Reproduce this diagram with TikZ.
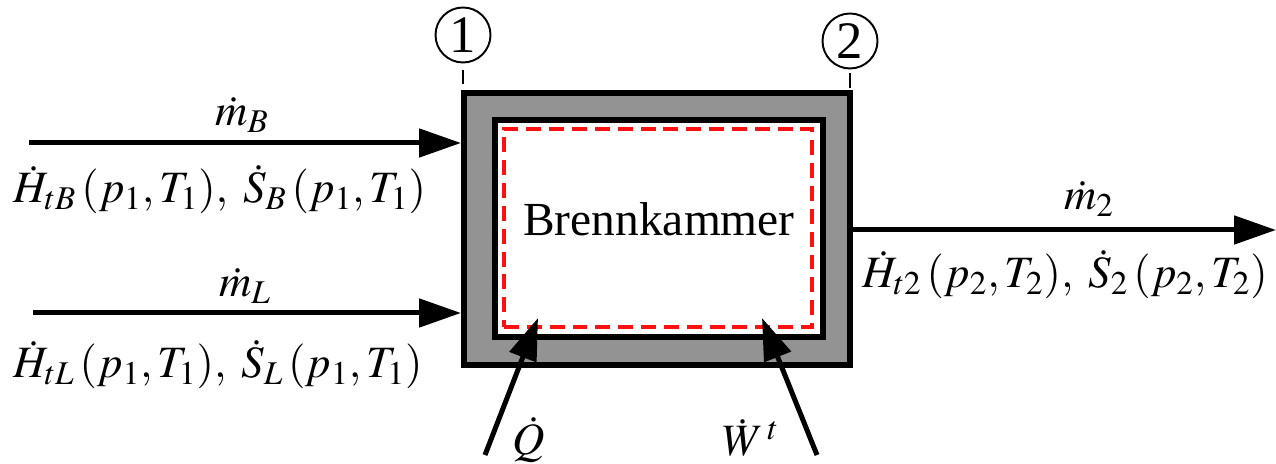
\documentclass[tikz,border=0pt]{standalone}
\usepackage{mathptmx}
\usepackage{fontspec}
\setmainfont{Liberation Serif}
\newfontfamily\timesfont{Liberation Serif}
\usepackage{tikz}
\usetikzlibrary{arrows.meta,positioning,calc}
\definecolor{wallgray}{HTML}{939393}
\definecolor{balred}{HTML}{FF1010}
\tikzset{
  >={Triangle[length=8.4mm,width=5.6mm]},
  wall/.style={draw=black,fill=wallgray,line width=3.4pt,minimum width=7.72cm,minimum height=5.44cm,inner sep=0pt},
  chamber/.style={draw=black,fill=white,line width=3.4pt,minimum width=6.56cm,minimum height=4.34cm,inner sep=0pt},
  balance/.style={draw=balred,line width=2.3pt,dash pattern=on 8.5pt off 4.5pt,minimum width=6.16cm,minimum height=3.96cm,inner sep=0pt},
  flow/.style={->,line width=2.85pt,color=black},
  station/.style={circle,draw=black,line width=1.1pt,minimum size=1.1cm,inner sep=0pt,font=\timesfont\fontsize{30}{32}\selectfont},
  tick/.style={line width=.6pt},
  lbl/.style={inner sep=0pt,font=\fontsize{25.5}{30}\selectfont},
}

\begin{document}
\begin{tikzpicture}
  \useasboundingbox (0,0) rectangle (25.52,-9.28);
  % Brennkammer mit Wand und Bilanzgrenze
  \node[wall] (kammer) at (13.14,-4.58) {};
  \node[chamber] (innen) at (13.18,-4.57) {};
  \node[balance] (grenze) at (13.16,-4.56) {};
  \node[inner sep=0pt,font=\timesfont\fontsize{27}{30}\selectfont] (name) at (13.18,-4.38) {Brennkammer};
  % Zustaende 1 und 2
  \node[station] (st1) at (9.26,-0.7) {1};
  \node[station] (st2) at (17.0,-0.82) {2};
  \draw[tick] ([yshift=-0.14cm]st1.south) -- ++(0,-0.28);
  \draw[tick] ([yshift=-0.08cm]st2.south) -- ++(0,-0.3);
  % Stoffstroeme
  \coordinate (inB) at (0.58,-2.86);
  \coordinate (inL) at (0.66,-6.26);
  \coordinate (out) at (25.52,-4.6);
  \draw[flow] (inB) -- (inB -| kammer.west);
  \draw[flow] (inL) -- (inL -| kammer.west);
  \draw[flow] (kammer.east |- out) -- (out);
  \node[lbl,anchor=base] (mB) at (4.84,-2.52) {$\dot m_B$};
  \node[lbl,anchor=base west] (hB) at (0.26,-4.06) {$\dot H_{tB}\,(p_1,T_1),\;\dot S_B\,(p_1,T_1)$};
  \node[lbl,anchor=base] (mL) at (4.9,-5.94) {$\dot m_L$};
  \node[lbl,anchor=base west] (hL) at (0.26,-7.56) {$\dot H_{tL}\,(p_1,T_1),\;\dot S_L\,(p_1,T_1)$};
  \node[lbl,anchor=base] (m2) at (21.78,-4.2) {$\dot m_2$};
  \node[lbl,anchor=base west] (h2) at (17.24,-5.76) {$\dot H_{t2}\,(p_2,T_2),\;\dot S_2\,(p_2,T_2)$};
  % Waerme und Arbeit
  \coordinate (qin) at (9.7,-9.1);
  \coordinate (qtip) at (10.76,-6.36);
  \coordinate (win) at (16.34,-9.1);
  \coordinate (wtip) at (15.24,-6.36);
  \draw[flow] (qin) -- (qtip);
  \draw[flow] (win) -- (wtip);
  \node[lbl,anchor=base] (q) at (10.58,-9.1) {$\dot Q$};
  \node[lbl,anchor=base] (w) at (15.02,-9.12) {$\dot W^{\,t}$};
\end{tikzpicture}
\end{document}
